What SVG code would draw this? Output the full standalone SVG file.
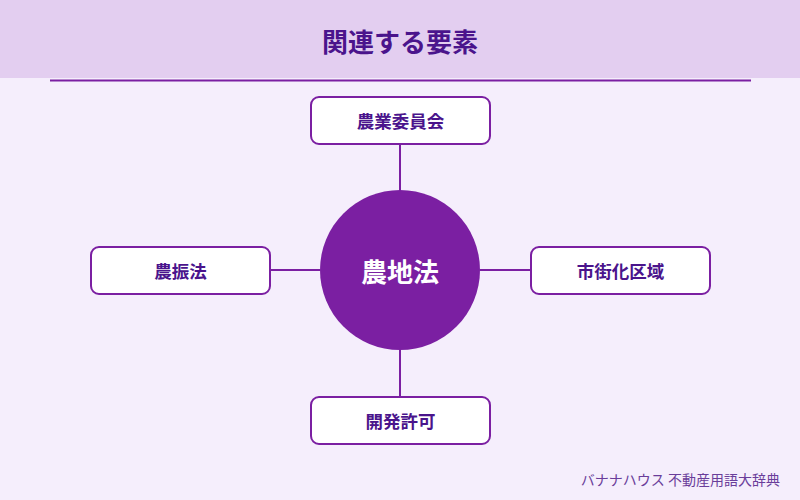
<svg xmlns="http://www.w3.org/2000/svg" width="800" height="500" viewBox="0 0 800 500">
<style>
.node rect{fill:#ffffff;stroke:#7B1FA2;stroke-width:2}
.lbl{font-family:"Noto Sans CJK JP","Noto Sans",sans-serif;font-weight:bold;font-size:17.5px;fill:#4A148C;text-anchor:middle;dominant-baseline:central}
.conn line{stroke:#7B1FA2;stroke-width:2}
</style>
<rect x="0" y="0" width="800" height="500" fill="#F5EEFC"/>
<rect x="0" y="0" width="800" height="78" fill="#E3CEF0"/>
<text x="400" y="40" font-family="'Noto Sans CJK JP',sans-serif" font-weight="bold" font-size="26" fill="#4A148C" text-anchor="middle" dominant-baseline="central">関連する要素</text>
<line x1="50" y1="80.5" x2="751" y2="80.5" stroke="#7B1FA2" stroke-width="2"/>
<g class="conn">
<line x1="400" y1="144" x2="400" y2="190"/>
<line x1="270" y1="270" x2="320" y2="270"/>
<line x1="480" y1="270" x2="531" y2="270"/>
<line x1="400" y1="350" x2="400" y2="397"/>
</g>
<g id="center">
<circle cx="400" cy="270" r="80" fill="#7B1FA2"/>
<text x="400" y="270" font-family="'Noto Sans CJK JP',sans-serif" font-weight="bold" font-size="26" fill="#ffffff" text-anchor="middle" dominant-baseline="central">農地法</text>
</g>
<g id="n-top" class="node"><rect x="311" y="97" width="179" height="47" rx="8"/><text class="lbl" x="400.5" y="120.5">農業委員会</text></g>
<g id="n-left" class="node"><rect x="91" y="247" width="179" height="47" rx="8"/><text class="lbl" x="180.5" y="270.5">農振法</text></g>
<g id="n-right" class="node"><rect x="531" y="247" width="179" height="47" rx="8"/><text class="lbl" x="620.5" y="270.5">市街化区域</text></g>
<g id="n-bottom" class="node"><rect x="311" y="397" width="179" height="47" rx="8"/><text class="lbl" x="400.5" y="420.5">開発許可</text></g>
<text x="780" y="479" font-family="'Noto Sans CJK JP',sans-serif" font-size="14" fill="#6A3D9A" text-anchor="end" dominant-baseline="central">バナナハウス 不動産用語大辞典</text>
</svg>
